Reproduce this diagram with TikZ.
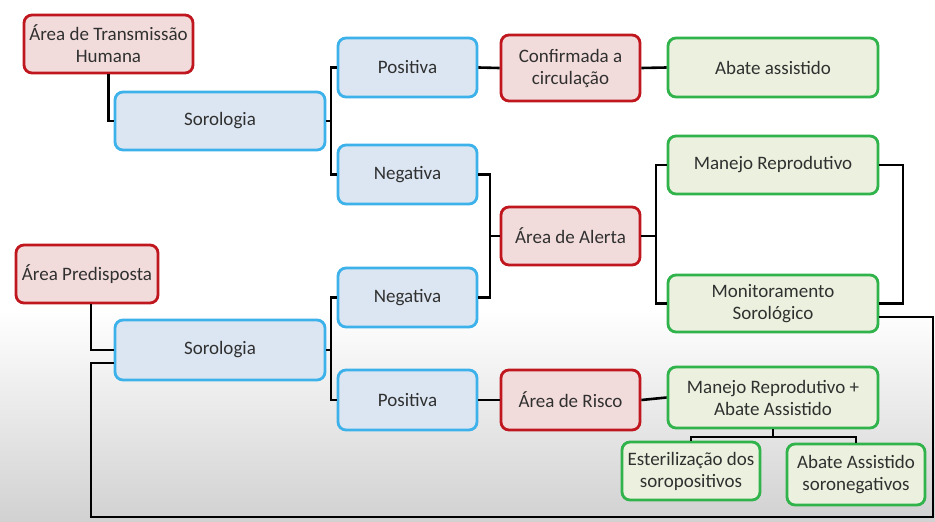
\documentclass[tikz,border=0pt]{standalone}
\usepackage{fontspec}
\setmainfont{Carlito}
\definecolor{redb}{HTML}{C0171F}
\definecolor{redf}{HTML}{F2DCDB}
\definecolor{blueb}{HTML}{3DB2EA}
\definecolor{bluef}{HTML}{DCE6F2}
\definecolor{greenb}{HTML}{2FB34A}
\definecolor{greenf}{HTML}{EBF1DE}
\definecolor{txt}{HTML}{303030}
\begin{document}
\begin{tikzpicture}[x=1pt,y=-1pt,
  box/.style={rounded corners=8pt, line width=2.8pt, align=center, inner sep=1pt,
    text=txt, font=\fontsize{19}{22}\selectfont},
  redbox/.style={box, draw=redb, fill=redf},
  bluebox/.style={box, draw=blueb, fill=bluef},
  greenbox/.style={box, draw=greenb, fill=greenf},
  conn/.style={line width=2.6pt, black}]
\useasboundingbox (0,0) rectangle (935,522);
\fill[white] (0,0) rectangle (935,522);
\shade[top color=white, bottom color=black!18] (0,310) rectangle (935,522);

% nodes
\node[redbox, minimum width=169pt, minimum height=58pt] (ath) at (108.5,44) {Área de Transmissão\\Humana};
\node[bluebox, minimum width=210pt, minimum height=58pt] (s1) at (220,121) {Sorologia};
\node[bluebox, minimum width=139pt, minimum height=59pt] (pos1) at (407.5,67.5) {Positiva};
\node[redbox, minimum width=139pt, minimum height=66pt] (conf) at (570.5,68) {Confirmada a\\circulação};
\node[greenbox, minimum width=210pt, minimum height=59pt] (abate) at (773,67.5) {Abate assistido};
\node[bluebox, minimum width=139pt, minimum height=59pt] (neg1) at (407.5,174.5) {Negativa};
\node[redbox, minimum width=139pt, minimum height=58pt] (alerta) at (570.5,236) {Área de Alerta};
\node[greenbox, minimum width=210pt, minimum height=58pt] (manejo) at (773,165) {Manejo Reprodutivo};
\node[greenbox, minimum width=210pt, minimum height=57pt] (monit) at (773,303.5) {Monitoramento\\Sorológico};
\node[redbox, minimum width=142pt, minimum height=58pt] (pred) at (87,274) {Área Predisposta};
\node[bluebox, minimum width=210pt, minimum height=60pt] (s2) at (220,350) {Sorologia};
\node[bluebox, minimum width=139pt, minimum height=59pt] (neg2) at (407.5,297.5) {Negativa};
\node[bluebox, minimum width=139pt, minimum height=60pt] (pos2) at (407.5,400) {Positiva};
\node[redbox, minimum width=139pt, minimum height=60pt] (risco) at (570.5,400) {Área de Risco};
\node[greenbox, minimum width=210pt, minimum height=61pt] (mab) at (773,397.5) {Manejo Reprodutivo +\\Abate Assistido};
\node[greenbox, minimum width=138pt, minimum height=58pt] (ester) at (691,471) {Esterilização dos\\soropositivos};
\node[greenbox, minimum width=138pt, minimum height=61pt] (abs) at (856,474.5) {Abate Assistido\\soronegativos};

% junction coordinates
\coordinate (b1) at (331,121);
\coordinate (b2) at (490,236);
\coordinate (b3) at (656,236);
\coordinate (b4) at (903,234);
\coordinate (b5) at (331,350);
\coordinate (b6) at (773,437);
\coordinate (l1) at (91,517);
\coordinate (l2) at (933,517);

% connectors
\draw[conn] (ath.south) |- (s1.west);
\draw[conn] (s1.east) -- (b1);
\draw[conn] (pos1.west) -| (b1) |- (neg1.west);
\draw[conn] (pos1.east) -- (conf.west);
\draw[conn] (conf.east) -- (abate.west);
\draw[conn] (neg1.east) -| (b2) |- (neg2.east);
\draw[conn] (b2) -- (alerta.west);
\draw[conn] (alerta.east) -- (b3);
\draw[conn] (manejo.west) -| (b3) |- (monit.west);
\draw[conn] (manejo.east) -| (b4) |- (monit.east);
\draw[conn] ([xshift=4pt]pred.south) |- (s2.west);
\draw[conn] ([yshift=-13pt]s2.west) -| (l1) -- (l2) |- ([yshift=-13.5pt]monit.east);
\draw[conn] (s2.east) -- (b5);
\draw[conn] (neg2.west) -| (b5) |- (pos2.west);
\draw[conn] (pos2.east) -- (risco.west);
\draw[conn] (risco.east) -- (mab.west);
\draw[conn] (mab.south) -- (b6);
\draw[conn] (ester.north) |- (b6) -| (abs.north);
\end{tikzpicture}
\end{document}
